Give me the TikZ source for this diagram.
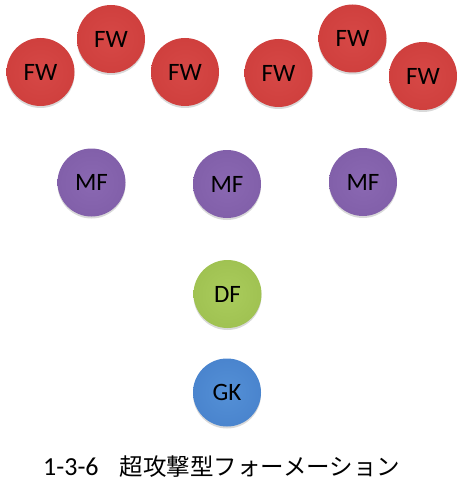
\documentclass[tikz,border=0pt]{standalone}
\usepackage{fontspec}
\setmainfont{Carlito}
\newfontfamily\jpfont{Noto Sans CJK JP}
\usetikzlibrary{shadows}
\definecolor{redC}{RGB}{214,72,70}
\definecolor{redM}{RGB}{206,62,60}
\definecolor{redD}{RGB}{158,38,38}
\definecolor{purC}{RGB}{138,104,178}
\definecolor{purM}{RGB}{128,94,168}
\definecolor{purD}{RGB}{86,58,122}
\definecolor{grnC}{RGB}{170,204,92}
\definecolor{grnM}{RGB}{158,192,80}
\definecolor{grnD}{RGB}{110,140,46}
\definecolor{bluC}{RGB}{84,144,214}
\definecolor{bluM}{RGB}{72,130,204}
\definecolor{bluD}{RGB}{40,88,152}
\pgfdeclareradialshading{redball}{\pgfpoint{0bp}{0bp}}{color(0bp)=(redC); color(30bp)=(redM); color(43bp)=(redM); color(50bp)=(redD)}
\pgfdeclareradialshading{purball}{\pgfpoint{0bp}{0bp}}{color(0bp)=(purC); color(30bp)=(purM); color(43bp)=(purM); color(50bp)=(purD)}
\pgfdeclareradialshading{grnball}{\pgfpoint{0bp}{0bp}}{color(0bp)=(grnC); color(30bp)=(grnM); color(43bp)=(grnM); color(50bp)=(grnD)}
\pgfdeclareradialshading{bluball}{\pgfpoint{0bp}{0bp}}{color(0bp)=(bluC); color(30bp)=(bluM); color(43bp)=(bluM); color(50bp)=(bluD)}
\begin{document}
\begin{tikzpicture}[x=1pt,y=-1pt,
  player/.style={circle, minimum size=68pt, inner sep=0pt, text=black,
    font=\fontsize{25}{25}\selectfont, shading=#1, shade,
    drop shadow={shadow xshift=0pt, shadow yshift=-2pt, opacity=0.3}},
  caption/.style={anchor=west, inner sep=0pt, text=black}]
\useasboundingbox (0,0) rectangle (462,500);
\node[player=redball] (fw1) at (40.5,72) {FW};
\node[player=redball] (fw2) at (111,39) {FW};
\node[player=redball] (fw3) at (185,72) {FW};
\node[player=redball] (fw4) at (278.5,73) {FW};
\node[player=redball] (fw5) at (352.5,38.5) {FW};
\node[player=redball] (fw6) at (423,76) {FW};
\node[player=purball] (mf1) at (91.5,182.5) {MF};
\node[player=purball] (mf2) at (227,184) {MF};
\node[player=purball] (mf3) at (363,182) {MF};
\node[player=grnball] (df) at (227.5,294) {DF};
\node[player=bluball] (gk) at (227,392.5) {GK};
\node[caption] (cap) at (43,467) {\fontsize{26}{26}\selectfont 1-3-6\hspace{21pt}{\jpfont\fontsize{23.5}{26}\selectfont 超攻撃型フォーメーション}};
\end{tikzpicture}
\end{document}
